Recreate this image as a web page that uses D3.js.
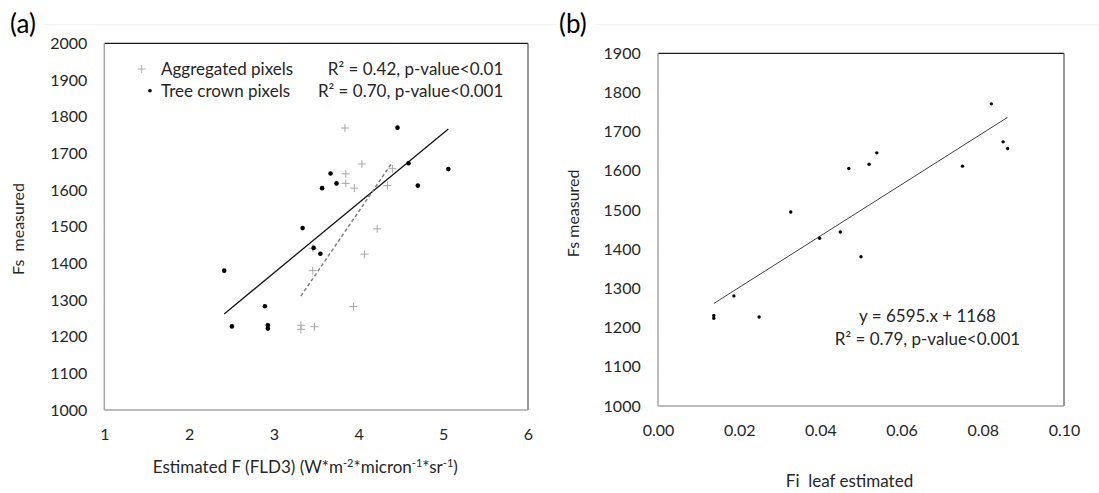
<!DOCTYPE html>
<html><head><meta charset="utf-8">
<script src="https://cdn.jsdelivr.net/npm/d3@7"></script>
<style>
html,body{margin:0;padding:0;background:#fff;}
text{font-family:Lato, "Open Sans", sans-serif;}
</style></head>
<body><svg id="chart" width="1099" height="493"></svg>
<script>
// ---------- data ----------
const aggX   = [3.84, 4.04, 3.85, 3.85, 3.95, 4.34, 4.40, 4.22, 4.07, 3.46, 3.46, 3.94, 3.32, 3.32, 3.48];
const aggY   = [1769, 1671, 1644, 1618, 1605, 1612, 1658, 1494, 1425, 1441, 1380, 1282, 1231, 1220, 1227];
const crownX = [4.46, 4.59, 5.06, 4.70, 3.67, 3.74, 3.57, 3.34, 3.47, 3.55, 2.415, 2.895, 2.506, 2.93, 2.93];
const crownY = [1770, 1673, 1657, 1612, 1645, 1618, 1605, 1496, 1442, 1426, 1380, 1283, 1228, 1231, 1222];
const leafX  = [0.0821, 0.0850, 0.0861, 0.0750, 0.0539, 0.0520, 0.0470, 0.0327, 0.0449, 0.0398, 0.0500, 0.0187, 0.01374, 0.01374, 0.0249];
const leafY  = [1771, 1674, 1657, 1612, 1646, 1617, 1606, 1495, 1444, 1428, 1381, 1281, 1231, 1224, 1227];

const aXTicks = [1, 2, 3, 4, 5, 6];
const aYTicks = [1000, 1100, 1200, 1300, 1400, 1500, 1600, 1700, 1800, 1900, 2000];
const bXTicks = [0, 0.02, 0.04, 0.06, 0.08, 0.10];
const bYTicks = [1000, 1100, 1200, 1300, 1400, 1500, 1600, 1700, 1800, 1900];

const legendLabels = ["Aggregated pixels", "Tree crown pixels"];
const statsA = ["R² = 0.42, p-value<0.01", "R² = 0.70, p-value<0.001"];
const statsB = ["y = 6595.x + 1168", "R² = 0.79, p-value<0.001"];

// ---------- helpers ----------
const svg = d3.select("#chart");
svg.append("rect").attr("width",1099).attr("height",493).attr("fill","#fff");
const TXT = "#262626";

function fit(xs, ys){
  const mx = d3.mean(xs), my = d3.mean(ys);
  let sxy=0, sxx=0;
  xs.forEach((x,i)=>{ sxy += (x-mx)*(ys[i]-my); sxx += (x-mx)*(x-mx); });
  const b = sxy/sxx; return {b, a: my - b*mx, x0: d3.min(xs), x1: d3.max(xs)};
}

function panel(cfg){
  const g = svg.append("g");
  const x = d3.scaleLinear().domain(cfg.xd).range([cfg.l, cfg.r]);
  const y = d3.scaleLinear().domain(cfg.yd).range([cfg.b, cfg.t]);
  const ya = d3.axisLeft(y).tickValues(cfg.yt).tickSize(0).tickPadding(cfg.ypad).tickFormat(d3.format("d"));
  const gy = g.append("g").attr("transform",`translate(${cfg.l},0)`).call(ya);
  gy.select(".domain").remove();
  gy.selectAll("text").attr("font-size",16).attr("fill",TXT).style("font-family","Lato");
  const xa = d3.axisBottom(x).tickValues(cfg.xt).tickSize(0).tickPadding(cfg.xpad).tickFormat(cfg.xf);
  const gx = g.append("g").attr("transform",`translate(0,${cfg.b})`).call(xa);
  gx.select(".domain").remove();
  gx.selectAll("text").attr("font-size",16).attr("fill",TXT).style("font-family","Lato");
  // frame
  g.append("line").attr("x1",cfg.l).attr("x2",cfg.r).attr("y1",cfg.t).attr("y2",cfg.t).attr("stroke","#1a1a1a").attr("stroke-width",1.2);
  g.append("line").attr("x1",cfg.r).attr("x2",cfg.r).attr("y1",cfg.t).attr("y2",cfg.b).attr("stroke","#555").attr("stroke-width",1.2);
  g.append("line").attr("x1",cfg.l).attr("x2",cfg.l).attr("y1",cfg.t).attr("y2",cfg.b).attr("stroke","#a6a6a6").attr("stroke-width",1.5);
  g.append("line").attr("x1",cfg.l).attr("x2",cfg.r).attr("y1",cfg.b).attr("y2",cfg.b).attr("stroke","#a6a6a6").attr("stroke-width",1.5);
  return {g, x, y};
}

// faint divider line behind the panel letters
svg.append("line").attr("x1",44).attr("x2",556).attr("y1",24.5).attr("y2",24.5).attr("stroke","#f2f2f2");
svg.append("line").attr("x1",596).attr("x2",1099).attr("y1",24.5).attr("y2",24.5).attr("stroke","#f2f2f2");

// ---------- panel (a) ----------
const A = panel({l:104.3, r:528, t:43.3, b:410, xd:[1,6], yd:[1000,2000], xt:aXTicks, yt:aYTicks,
                 xf:d3.format("d"), ypad:17, xpad:18.5});
const aggPts = aggX.map((v,i)=>({x:v, y:aggY[i]}));
const crownPts = crownX.map((v,i)=>({x:v, y:crownY[i]}));

const fa = fit(aggX, aggY), fc = fit(crownX, crownY);
A.g.append("line").attr("x1",A.x(fc.x0)).attr("y1",A.y(fc.a+fc.b*fc.x0))
  .attr("x2",A.x(fc.x1)).attr("y2",A.y(fc.a+fc.b*fc.x1)).attr("stroke","#111").attr("stroke-width",1.3);
A.g.append("line").attr("x1",A.x(fa.x0)).attr("y1",A.y(fa.a+fa.b*fa.x0))
  .attr("x2",A.x(fa.x1)).attr("y2",A.y(fa.a+fa.b*fa.x1)).attr("stroke","#7f7f7f").attr("stroke-width",1.5)
  .attr("stroke-dasharray","3.5,2.5");

A.g.selectAll(".agg").data(aggPts).enter().append("path")
  .attr("d","M-4,0H4M0,-4V4").attr("transform",d=>`translate(${A.x(d.x)},${A.y(d.y)})`)
  .attr("stroke","#a6a6a6").attr("stroke-width",1).attr("fill","none");
A.g.selectAll(".crown").data(crownPts).enter().append("circle")
  .attr("cx",d=>A.x(d.x)).attr("cy",d=>A.y(d.y)).attr("r",2.3).attr("fill","#000");

// legend
A.g.append("path").attr("d","M137.7,69H145.7M141.7,65V73").attr("stroke","#b0b0b0").attr("stroke-width",1);
A.g.append("circle").attr("cx",150).attr("cy",90.7).attr("r",1.8).attr("fill","#000");
A.g.selectAll(".leg").data(legendLabels).enter().append("text")
  .attr("x",161).attr("y",(d,i)=>75+i*21.7).attr("font-size",17).attr("fill",TXT).text(d=>d);
A.g.selectAll(".st").data(statsA).enter().append("text")
  .attr("x",503.3).attr("y",(d,i)=>75+i*21.7).attr("text-anchor","end").attr("font-size",17).attr("fill",TXT).text(d=>d);

// axis titles (a)
const xtA = svg.append("text").attr("x",305.3).attr("y",472.5).attr("text-anchor","middle")
  .attr("font-size",17).attr("fill",TXT);
xtA.append("tspan").text("Estimated F (FLD3) (W*m");
xtA.append("tspan").attr("font-size",11).attr("dy",-6).text("-2");
xtA.append("tspan").attr("dy",6).text("*micron");
xtA.append("tspan").attr("font-size",11).attr("dy",-6).text("-1");
xtA.append("tspan").attr("dy",6).text("*sr");
xtA.append("tspan").attr("font-size",11).attr("dy",-6).text("-1");
xtA.append("tspan").attr("dy",6).text(")");
svg.append("text").attr("transform","translate(24,229) rotate(-90)").attr("text-anchor","middle")
  .attr("font-size",16).attr("fill",TXT).style("white-space","pre").text("Fs  measured");

svg.append("text").attr("x",10).attr("y",33).attr("font-size",26).attr("fill","#000").text("(a)");

// ---------- panel (b) ----------
const B = panel({l:658, r:1064, t:53.3, b:406, xd:[0,0.10], yd:[1000,1900], xt:bXTicks, yt:bYTicks,
                 xf:d3.format(".2f"), ypad:17.3, xpad:18.3});
const leafPts = leafX.map((v,i)=>({x:v, y:leafY[i]}));
const fl = fit(leafX, leafY);
B.g.append("line").attr("x1",B.x(fl.x0)).attr("y1",B.y(fl.a+fl.b*fl.x0))
  .attr("x2",B.x(fl.x1)).attr("y2",B.y(fl.a+fl.b*fl.x1)).attr("stroke","#404040").attr("stroke-width",1);
B.g.selectAll(".leaf").data(leafPts).enter().append("circle")
  .attr("cx",d=>B.x(d.x)).attr("cy",d=>B.y(d.y)).attr("r",1.7).attr("fill","#000");
B.g.selectAll(".stb").data(statsB).enter().append("text")
  .attr("x",927.5).attr("y",(d,i)=>321.7+i*23.3).attr("text-anchor","middle").attr("font-size",17).attr("fill",TXT).text(d=>d);

svg.append("text").attr("x",849.5).attr("y",486.7).attr("text-anchor","middle").attr("font-size",17)
  .attr("fill",TXT).style("white-space","pre").text("Fi  leaf estimated");
svg.append("text").attr("transform","translate(579.3,213.3) rotate(-90)").attr("text-anchor","middle")
  .attr("font-size",16).attr("fill",TXT).style("white-space","pre").text("Fs measured");
svg.append("text").attr("x",559).attr("y",33).attr("font-size",26).attr("fill","#000").text("(b)");
</script></body></html>
